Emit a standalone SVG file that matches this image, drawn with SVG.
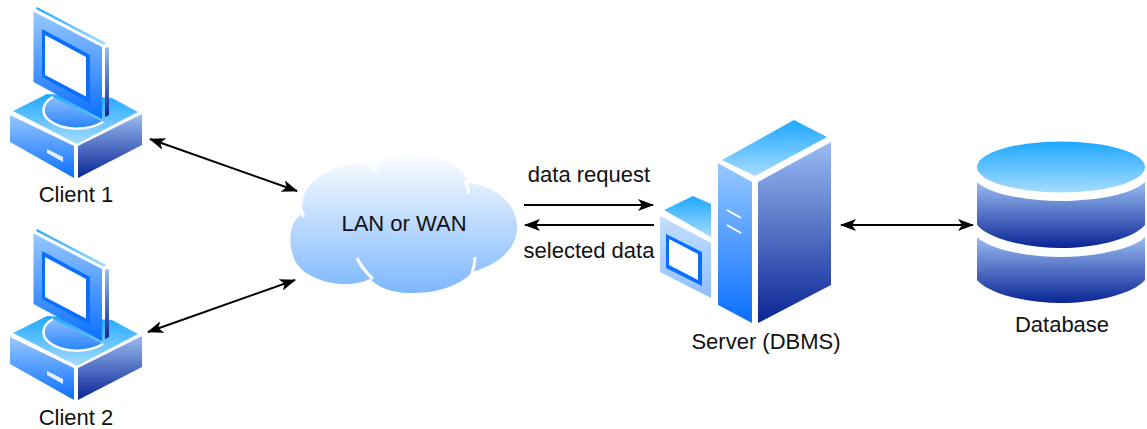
<svg xmlns="http://www.w3.org/2000/svg" xmlns:xlink="http://www.w3.org/1999/xlink" width="1147" height="429" viewBox="0 0 1147 429">
<style>
text{font-family:"Liberation Sans",Arial,sans-serif;font-size:22px;fill:#111;text-anchor:middle}
.edge{fill:none;stroke:#000;stroke-width:2}
.cut{fill:none;stroke:#fff;stroke-width:3}
</style>
<defs>
<linearGradient id="top" x1="0" y1="0" x2="0" y2="1"><stop offset="0" stop-color="#1ea8ff"/><stop offset="1" stop-color="#a5dcff"/></linearGradient>
<linearGradient id="side" x1="0" y1="0" x2="0" y2="1"><stop offset="0" stop-color="#9abcf2"/><stop offset="1" stop-color="#0a2595"/></linearGradient>
<linearGradient id="front" x1="0" y1="0" x2="0" y2="1"><stop offset="0" stop-color="#97c8ff"/><stop offset="1" stop-color="#0a6fff"/></linearGradient>
<linearGradient id="pale" x1="0" y1="0" x2="0" y2="1"><stop offset="0" stop-color="#c4deff"/><stop offset="1" stop-color="#8fc0ff"/></linearGradient>
<linearGradient id="cloud" x1="0" y1="0" x2="0" y2="1"><stop offset="0" stop-color="#fdfeff"/><stop offset="1" stop-color="#7db7ff"/></linearGradient>
<linearGradient id="dish" x1="0" y1="0" x2="0" y2="1"><stop offset="0" stop-color="#8dbdfb"/><stop offset="1" stop-color="#2584ff"/></linearGradient>
<marker id="arr" viewBox="0 0 16 12" refX="15" refY="6" markerWidth="16" markerHeight="12" markerUnits="userSpaceOnUse" orient="auto-start-reverse"><path d="M0,0 L16,6 L0,12 L4,6 Z" fill="#000"/></marker>
<g id="pc">
<polygon points="13,111 47,94 112,98 138,112 77,144" fill="url(#top)"/>
<path d="M53,97 C42,103 40,114 50,121 C63,131 88,131 103,122" fill="url(#dish)" stroke="#fff" stroke-width="2.5"/>
<polygon points="33.5,11.5 102,47 102,119 33.5,82" fill="url(#front)"/>
<polygon points="42,29 90,55 90,103 42,77" fill="#0a6fff"/>
<polygon points="45,35 86,57 86,96.5 45,75" fill="#fff"/>
<polygon points="37,7 106,43 104,45 36,9" fill="url(#top)"/>
<polygon points="105,48 109,47 109,115 105,117" fill="url(#side)"/>
<polygon points="10,115 74,146 74,178 10,142" fill="url(#front)"/>
<polygon points="78,146 142,114 142,145 78,178" fill="url(#side)"/>
<polygon points="47,149 63,157 63,162 47,153" fill="#fff" opacity=".85"/>
</g>
</defs>
<g id="connectors">
<line class="edge" x1="150" y1="139" x2="297" y2="191" marker-start="url(#arr)" marker-end="url(#arr)"/>
<line class="edge" x1="148" y1="332" x2="295" y2="280" marker-start="url(#arr)" marker-end="url(#arr)"/>
<line class="edge" x1="524" y1="205" x2="653" y2="205" marker-end="url(#arr)"/>
<line class="edge" x1="654" y1="225" x2="525" y2="225" marker-end="url(#arr)"/>
<line class="edge" x1="841" y1="225" x2="973" y2="225" marker-start="url(#arr)" marker-end="url(#arr)"/>
</g>
<g id="client1"><use xlink:href="#pc" href="#pc"/><text x="76" y="202">Client 1</text></g>
<g id="client2"><use xlink:href="#pc" href="#pc" y="222"/><text x="76" y="425">Client 2</text></g>
<g id="cloud-node">
<path d="M302,214 C288,221 287,248 297,264 C307,280 345,291 370,279 C382,291 398,293 413,293 C442,293 465,282 472,272 C497,265 517,250 517,227 C517,203 495,186 468,183 C462,163 435,153 410,153 C395,153 382,158 376,166 C350,160 315,170 304,195 C302,203 302,209 302,214 Z" fill="url(#cloud)"/>
<path class="cut" d="M301,209 Q302,213 304,217"/>
<path class="cut" d="M369,167 L378,171"/>
<path class="cut" d="M465,180 Q468,187 469,194"/>
<path class="cut" d="M357,258 Q363,270 373,279"/>
<path class="cut" d="M475,257 Q475,265 472,273"/>
<text x="404" y="231">LAN or WAN</text>
</g>
<g id="server">
<polygon points="664,210 693,196 711,204 711,237" fill="url(#top)"/>
<polygon points="660,216 711,243 711,298 660,272" fill="url(#pale)"/>
<polygon points="666,234 702,252 702,286 666,268" fill="#0a6fff"/>
<polygon points="669,239 698,254 698,280 669,265" fill="#fff"/>
<polygon points="722,160 794,120 827,137 755,176" fill="url(#top)"/>
<polygon points="718,163 752,182 752,323 718,305" fill="url(#front)"/>
<polygon points="758,182 831,142 831,285 758,323" fill="url(#side)"/>
<line x1="727" y1="210" x2="741" y2="218" stroke="#fff" stroke-width="2"/>
<line x1="727" y1="225" x2="741" y2="233" stroke="#fff" stroke-width="2"/>
<text x="766" y="349">Server (DBMS)</text>
</g>
<g id="database">
<path d="M977,237 C990,250 1030,257 1061,257 C1092,257 1132,250 1145,237 V280 C1132,295 1092,303 1061,303 C1030,303 990,295 977,280 Z" fill="url(#side)"/>
<path d="M977,182 C990,195 1030,201 1061,201 C1092,201 1132,195 1145,182 V225 C1132,240 1092,248 1061,248 C1030,248 990,240 977,225 Z" fill="url(#side)"/>
<ellipse cx="1061" cy="167" rx="84" ry="25.5" fill="url(#top)"/>
<text x="1062" y="332">Database</text>
</g>
<text x="589" y="182">data request</text>
<text x="589" y="258">selected data</text>
</svg>
